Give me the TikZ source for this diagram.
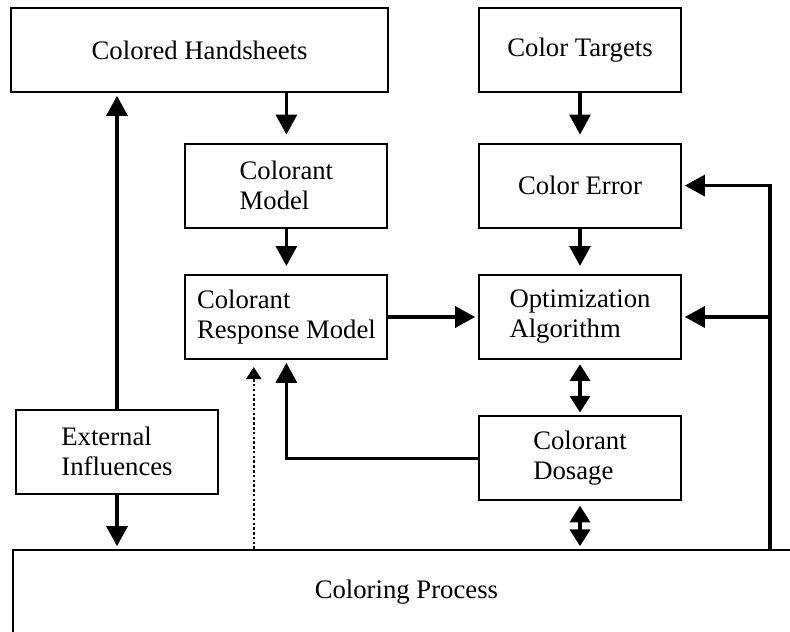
\documentclass[tikz,border=0pt]{standalone}
\usepackage{fontspec}
\setmainfont{Liberation Serif}
\usetikzlibrary{arrows.meta,calc}
\tikzset{
	block/.style={draw, line width=1.4pt, align=left, inner sep=0pt,
		minimum width=5.05cm, minimum height=2.1cm,
		font=\fontsize{19pt}{21.3pt}\selectfont},
	flow/.style={line width=2.6pt, -{Triangle[length=0.5cm,width=0.52cm]}, shorten >=2pt},
	dualflow/.style={line width=2.6pt, {Triangle[length=0.42cm,width=0.5cm]}-{Triangle[length=0.42cm,width=0.5cm]}, shorten >=2pt, shorten <=3pt},
	sensed/.style={line width=1.8pt, dash pattern=on 1.8pt off 1.6pt, -{Triangle[length=0.3cm,width=0.37cm]}, shorten >=5pt}
}

\begin{document}
\begin{tikzpicture}
			%%%%% START %%%%%
			\useasboundingbox (0, 0) rectangle (19.75, 15.8);
			
			\node[block, minimum width=9.425cm] (hand) at (4.99, 14.55) {Colored Handsheets};
			\node[block] (targets) at (14.5, 14.55) {Color Targets};
			
			\node[block] (cmodel) at (7.16, 11.16) {Colorant\\Model};
			\node[block] (cerror) at (14.5, 11.16) {Color Error};
			
			\node[block] (resp) at (7.16, 7.875) {Colorant\\Response Model};
			\node[block] (optim) at (14.5, 7.875) {Optimization\\Algorithm};
			
			\node[block] (ext) at (2.925, 4.51) {External\\Influences};
			\node[block] (dosage) at (14.5, 4.34) {Colorant\\Dosage};
			
			\node[block, minimum width=19.675cm, minimum height=2.1cm] (process) at (10.16, 1.0) {Coloring Process};
			
			\coordinate (loop) at (19.25, 2.05);
			\coordinate (sense) at ($(resp.south west)!0.34!(resp.south east)$);
			
			\draw[flow, shorten >=0.2cm] (hand.south -| cmodel.north) -- (cmodel.north);
			\draw[flow, shorten >=0.2cm] (cmodel.south) -- (resp.north);
			\draw[flow, shorten >=0.2cm] (targets.south) -- (cerror.north);
			\draw[flow, shorten >=0.2cm] (cerror.south) -- (optim.north);
			
			\draw[flow] (resp.east) -- (optim.west);
			\draw[flow] (ext.north) -- (ext.north |- hand.south);
			\draw[flow] (ext.south) -- (ext.south |- process.north);
			\draw[flow] (dosage.west) -| (resp.south);
			
			\draw[dualflow] (optim.south) -- (dosage.north);
			\draw[dualflow] (dosage.south) -- (dosage.south |- process.north);
			
			\draw[flow] (process.north -| loop) |- (cerror.east);
			\draw[flow] (loop |- optim.east) -- (optim.east);
			
			\draw[sensed] (process.north -| sense) -- (sense);
			
			%%%%% END %%%%%
\end{tikzpicture}
\end{document}
